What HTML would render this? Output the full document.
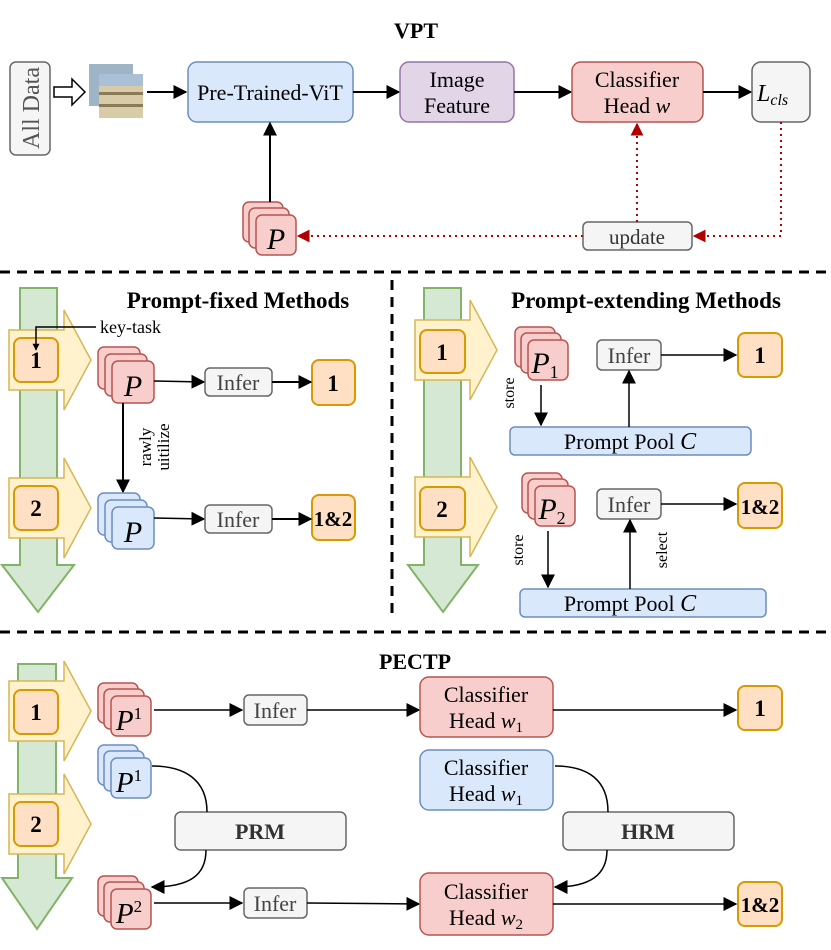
<!DOCTYPE html>
<html><head><meta charset="utf-8"><style>
html,body{margin:0;padding:0;background:#fff;}
svg{display:block;font-family:"Liberation Serif",serif;}
</style></head><body>
<svg width="831" height="950" viewBox="0 0 831 950" xmlns="http://www.w3.org/2000/svg">
<defs>
<marker id="a" viewBox="0 0 10 10" refX="9" refY="5" markerWidth="7" markerHeight="7" orient="auto" markerUnits="userSpaceOnUse"><path d="M0,0L10,5L0,10z" fill="#000"/></marker>
<marker id="ab" viewBox="0 0 10 10" refX="9" refY="5" markerWidth="14" markerHeight="14" orient="auto" markerUnits="userSpaceOnUse"><path d="M0,0L10,5L0,10z" fill="#000"/></marker>
<marker id="ar" viewBox="0 0 10 10" refX="9" refY="5" markerWidth="13" markerHeight="13" orient="auto" markerUnits="userSpaceOnUse"><path d="M0,0L10,5L0,10z" fill="#b00000"/></marker>
</defs>
<g font-size="22">
<!-- VPT -->
<text x="416" y="38" text-anchor="middle" font-weight="bold" font-size="22">VPT</text>
<rect x="10" y="62" width="40" height="93" rx="6" fill="#f5f5f5" stroke="#666" stroke-width="1.5"/>
<text transform="translate(39,108) rotate(-90)" text-anchor="middle" fill="#555" font-size="24">All Data</text>
<path d="M54,87h18v-8l13,13l-13,13v-8h-18z" fill="#fff" stroke="#000" stroke-width="1.5"/>
<rect x="89" y="64" width="44" height="42" fill="#9fb4c4"/>
<rect x="99" y="74" width="44" height="44" fill="#d8cba8"/>
<rect x="99" y="74" width="44" height="12" fill="#a9c0d6"/>
<rect x="99" y="92" width="44" height="3" fill="#8a7a5a"/>
<rect x="99" y="104" width="44" height="3" fill="#8a7a5a"/>
<line x1="147" y1="92" x2="186" y2="92" stroke="#000" stroke-width="2" marker-end="url(#ab)"/>
<rect x="188" y="62" width="165" height="60" rx="9" fill="#dae8fc" stroke="#6c8ebf" stroke-width="1.5"/>
<text x="270" y="100" text-anchor="middle">Pre-Trained-ViT</text>
<line x1="353" y1="92" x2="399" y2="92" stroke="#000" stroke-width="2" marker-end="url(#ab)"/>
<rect x="400" y="62" width="114" height="60" rx="9" fill="#e1d5e7" stroke="#9673a6" stroke-width="1.5"/>
<text x="457" y="87" text-anchor="middle">Image</text><text x="457" y="113" text-anchor="middle">Feature</text>
<line x1="514" y1="92" x2="571" y2="92" stroke="#000" stroke-width="2" marker-end="url(#ab)"/>
<rect x="572" y="62" width="131" height="60" rx="9" fill="#f8cecc" stroke="#b85450" stroke-width="1.5"/>
<text x="637" y="87" text-anchor="middle">Classifier</text><text x="637" y="113" text-anchor="middle">Head <tspan font-style="italic">w</tspan></text>
<line x1="703" y1="92" x2="751" y2="92" stroke="#000" stroke-width="2" marker-end="url(#ab)"/>
<rect x="752" y="62" width="58" height="60" rx="9" fill="#f5f5f5" stroke="#666" stroke-width="1.5"/>
<text x="757" y="101" font-style="italic" font-size="24">L<tspan font-size="16" dy="4">cls</tspan></text>
<g stroke="#b85450" stroke-width="1.5" fill="#f8cecc">
<rect x="243" y="202" width="40" height="40" rx="6"/><rect x="249" y="208" width="40" height="40" rx="6"/><rect x="256" y="215" width="40" height="40" rx="6"/></g>
<text x="276" y="249" text-anchor="middle" font-style="italic" font-size="30">P</text>
<line x1="270" y1="202" x2="270" y2="123" stroke="#000" stroke-width="2" marker-end="url(#ab)"/>
<rect x="583" y="222" width="109" height="28" rx="5" fill="#f5f5f5" stroke="#666" stroke-width="1.5"/>
<text x="637" y="244" text-anchor="middle" fill="#333" font-size="21">update</text>
<g stroke="#b00000" stroke-width="2" stroke-dasharray="2,4" fill="none">
<path d="M781,122V236H694" marker-end="url(#ar)"/>
<path d="M583,236H298" marker-end="url(#ar)"/>
<path d="M637,222V124" marker-end="url(#ar)"/>
</g>
<line x1="0" y1="272" x2="831" y2="272" stroke="#000" stroke-width="3" stroke-dasharray="10,7"/>
<line x1="392" y1="280" x2="392" y2="618" stroke="#000" stroke-width="3" stroke-dasharray="10,7"/>
<line x1="0" y1="632" x2="831" y2="632" stroke="#000" stroke-width="3" stroke-dasharray="10,7"/>

<!-- green arrows -->
<g fill="#d5e8d4" stroke="#82b366" stroke-width="2">
<path d="M20,288H57V565H74L38,612L2,565H20z"/>
<path d="M424,288H461V565H478L443,612L408,565H424z"/>
<path d="M18,664H56V878H72L37,929L2,878H18z"/>
</g>
<g fill="#fff2cc" stroke="#d6b656" stroke-width="1.5">
<path d="M9,330H64V310L91,360L64,410V390H9z"/>
<path d="M9,478H64V458L91,508L64,558V538H9z"/>
<path d="M415,320H470V300L497,350L470,400V380H415z"/>
<path d="M415,477H470V457L497,507L470,557V537H415z"/>
<path d="M9,681H64V661L91,711L64,761V741H9z"/>
<path d="M9,794H64V774L91,824L64,874V854H9z"/>
</g>
<g fill="#ffe0c4" stroke="#d79b00" stroke-width="2">
<rect x="14" y="338" width="44" height="44" rx="7"/><rect x="14" y="486" width="44" height="44" rx="7"/>
<rect x="420" y="330" width="45" height="43" rx="7"/><rect x="420" y="487" width="45" height="43" rx="7"/>
<rect x="14" y="690" width="44" height="44" rx="7"/><rect x="14" y="802" width="44" height="44" rx="7"/>
<rect x="312" y="360" width="43" height="45" rx="7"/><rect x="312" y="495" width="43" height="45" rx="7"/>
<rect x="738" y="333" width="44" height="44" rx="7"/><rect x="738" y="483" width="44" height="45" rx="7"/>
<rect x="738" y="686" width="44" height="44" rx="7"/><rect x="738" y="882" width="44" height="44" rx="7"/>
</g>
<g font-weight="bold" text-anchor="middle" font-size="23">
<text x="36" y="368">1</text><text x="36" y="516">2</text><text x="442" y="360">1</text><text x="442" y="517">2</text>
<text x="36" y="720">1</text><text x="36" y="832">2</text>
<text x="333" y="391">1</text><text x="333" y="526" font-size="21">1&amp;2</text>
<text x="760" y="363">1</text><text x="760" y="514" font-size="21">1&amp;2</text>
<text x="760" y="716">1</text><text x="760" y="912" font-size="21">1&amp;2</text>
</g>

<!-- Prompt-fixed -->
<text x="238" y="308" text-anchor="middle" font-weight="bold" font-size="23">Prompt-fixed Methods</text>
<text x="100" y="333" font-size="18">key-task</text>
<path d="M96,327H36V350" fill="none" stroke="#000" stroke-width="1.5" marker-end="url(#a)"/>
<g stroke="#b85450" stroke-width="1.5" fill="#f8cecc">
<rect x="98" y="347" width="42" height="42" rx="6"/><rect x="105" y="354" width="42" height="42" rx="6"/><rect x="112" y="361" width="42" height="42" rx="6"/></g>
<text x="133" y="396" text-anchor="middle" font-style="italic" font-size="30">P</text>
<line x1="154" y1="381" x2="204" y2="382" stroke="#000" stroke-width="1.5" marker-end="url(#ab)"/>
<rect x="205" y="368" width="67" height="28" rx="5" fill="#f5f5f5" stroke="#666" stroke-width="1.5"/>
<text x="238" y="390" text-anchor="middle" fill="#444">Infer</text>
<line x1="272" y1="382" x2="311" y2="382" stroke="#000" stroke-width="2" marker-end="url(#ab)"/>
<line x1="123" y1="403" x2="123" y2="492" stroke="#000" stroke-width="2" marker-end="url(#ab)"/>
<text transform="translate(151,447) rotate(-90)" text-anchor="middle" font-size="17">rawly</text>
<text transform="translate(169,447) rotate(-90)" text-anchor="middle" font-size="17">uitilize</text>
<g stroke="#6c8ebf" stroke-width="1.5" fill="#dae8fc">
<rect x="98" y="493" width="42" height="42" rx="6"/><rect x="105" y="500" width="42" height="42" rx="6"/><rect x="112" y="507" width="42" height="42" rx="6"/></g>
<text x="133" y="542" text-anchor="middle" font-style="italic" font-size="30">P</text>
<line x1="154" y1="518" x2="204" y2="519" stroke="#000" stroke-width="1.5" marker-end="url(#ab)"/>
<rect x="205" y="505" width="67" height="28" rx="5" fill="#f5f5f5" stroke="#666" stroke-width="1.5"/>
<text x="238" y="527" text-anchor="middle" fill="#444">Infer</text>
<line x1="272" y1="519" x2="311" y2="519" stroke="#000" stroke-width="2" marker-end="url(#ab)"/>

<!-- Prompt-extending -->
<text x="646" y="308" text-anchor="middle" font-weight="bold" font-size="23">Prompt-extending Methods</text>
<g stroke="#b85450" stroke-width="1.5" fill="#f8cecc">
<rect x="515" y="327" width="40" height="40" rx="6"/><rect x="521" y="333" width="40" height="40" rx="6"/><rect x="528" y="340" width="40" height="40" rx="6"/></g>
<text x="545" y="373" text-anchor="middle" font-style="italic" font-size="30">P<tspan font-size="18" font-style="normal" dy="5">1</tspan></text>
<text transform="translate(514,393) rotate(-90)" text-anchor="middle" font-size="16">store</text>
<line x1="541" y1="385" x2="541" y2="425" stroke="#000" stroke-width="1.5" marker-end="url(#ab)"/>
<rect x="510" y="427" width="241" height="28" rx="5" fill="#dae8fc" stroke="#6c8ebf" stroke-width="1.5"/>
<text x="630" y="449" text-anchor="middle">Prompt Pool  <tspan font-style="italic" font-size="24">C</tspan></text>
<rect x="597" y="340" width="64" height="30" rx="5" fill="#f5f5f5" stroke="#666" stroke-width="1.5"/>
<text x="629" y="363" text-anchor="middle" fill="#444">Infer</text>
<line x1="629" y1="427" x2="629" y2="371" stroke="#000" stroke-width="1.5" marker-end="url(#ab)"/>
<line x1="661" y1="355" x2="736" y2="355" stroke="#000" stroke-width="1.5" marker-end="url(#ab)"/>
<g stroke="#b85450" stroke-width="1.5" fill="#f8cecc">
<rect x="522" y="473" width="40" height="40" rx="6"/><rect x="528" y="479" width="40" height="40" rx="6"/><rect x="535" y="486" width="40" height="40" rx="6"/></g>
<text x="552" y="519" text-anchor="middle" font-style="italic" font-size="30">P<tspan font-size="18" font-style="normal" dy="5">2</tspan></text>
<text transform="translate(523,550) rotate(-90)" text-anchor="middle" font-size="16">store</text>
<line x1="548" y1="531" x2="548" y2="587" stroke="#000" stroke-width="1.5" marker-end="url(#ab)"/>
<rect x="520" y="589" width="246" height="28" rx="5" fill="#dae8fc" stroke="#6c8ebf" stroke-width="1.5"/>
<text x="630" y="611" text-anchor="middle">Prompt Pool  <tspan font-style="italic" font-size="24">C</tspan></text>
<rect x="597" y="489" width="64" height="30" rx="5" fill="#f5f5f5" stroke="#666" stroke-width="1.5"/>
<text x="629" y="512" text-anchor="middle" fill="#444">Infer</text>
<line x1="630" y1="589" x2="630" y2="520" stroke="#000" stroke-width="1.5" marker-end="url(#ab)"/>
<text transform="translate(667,550) rotate(-90)" text-anchor="middle" font-size="16">select</text>
<line x1="661" y1="504" x2="736" y2="504" stroke="#000" stroke-width="1.5" marker-end="url(#ab)"/>

<!-- PECTP -->
<text x="415" y="669" text-anchor="middle" font-weight="bold" font-size="22">PECTP</text>
<g stroke="#b85450" stroke-width="1.5" fill="#f8cecc">
<rect x="98" y="683" width="40" height="40" rx="6"/><rect x="104" y="689" width="40" height="40" rx="6"/><rect x="111" y="696" width="40" height="40" rx="6"/></g>
<text x="129" y="730" text-anchor="middle" font-style="italic" font-size="29">P<tspan font-size="17" font-style="normal" dy="-11">1</tspan></text>
<line x1="154" y1="710" x2="242" y2="710" stroke="#000" stroke-width="1.5" marker-end="url(#ab)"/>
<rect x="244" y="695" width="63" height="30" rx="5" fill="#f5f5f5" stroke="#666" stroke-width="1.5"/>
<text x="275" y="718" text-anchor="middle" fill="#444">Infer</text>
<line x1="307" y1="710" x2="419" y2="710" stroke="#000" stroke-width="1.5" marker-end="url(#ab)"/>
<rect x="420" y="677" width="133" height="60" rx="9" fill="#f8cecc" stroke="#b85450" stroke-width="1.5"/>
<text x="486" y="702" text-anchor="middle">Classifier</text><text x="486" y="728" text-anchor="middle">Head <tspan font-style="italic">w</tspan><tspan font-size="15" dy="4">1</tspan></text>
<line x1="553" y1="710" x2="736" y2="710" stroke="#000" stroke-width="1.5" marker-end="url(#ab)"/>

<g stroke="#6c8ebf" stroke-width="1.5" fill="#dae8fc">
<rect x="98" y="745" width="40" height="40" rx="6"/><rect x="104" y="751" width="40" height="40" rx="6"/><rect x="111" y="758" width="40" height="40" rx="6"/></g>
<text x="129" y="792" text-anchor="middle" font-style="italic" font-size="29">P<tspan font-size="17" font-style="normal" dy="-11">1</tspan></text>
<rect x="420" y="750" width="133" height="60" rx="9" fill="#dae8fc" stroke="#6c8ebf" stroke-width="1.5"/>
<text x="486" y="775" text-anchor="middle">Classifier</text><text x="486" y="801" text-anchor="middle">Head <tspan font-style="italic">w</tspan><tspan font-size="15" dy="4">1</tspan></text>

<rect x="175" y="812" width="171" height="38" rx="6" fill="#f5f5f5" stroke="#666" stroke-width="1.5"/>
<text x="260" y="839" text-anchor="middle" font-weight="bold" fill="#333">PRM</text>
<rect x="563" y="812" width="171" height="38" rx="6" fill="#f5f5f5" stroke="#666" stroke-width="1.5"/>
<text x="648" y="839" text-anchor="middle" font-weight="bold" fill="#333">HRM</text>
<g fill="none" stroke="#000" stroke-width="1.5">
<path d="M152,766C185,766 207,780 207,812"/>
<path d="M206,850C206,875 190,887 152,887" marker-end="url(#ab)"/>
<path d="M555,766C588,766 608,780 608,812"/>
<path d="M607,850C607,875 590,887 555,887" marker-end="url(#ab)"/>
</g>
<g stroke="#b85450" stroke-width="1.5" fill="#f8cecc">
<rect x="98" y="876" width="40" height="40" rx="6"/><rect x="104" y="882" width="40" height="40" rx="6"/><rect x="111" y="889" width="40" height="40" rx="6"/></g>
<text x="129" y="923" text-anchor="middle" font-style="italic" font-size="29">P<tspan font-size="17" font-style="normal" dy="-11">2</tspan></text>
<line x1="154" y1="903" x2="242" y2="903" stroke="#000" stroke-width="1.5" marker-end="url(#ab)"/>
<rect x="244" y="888" width="63" height="30" rx="5" fill="#f5f5f5" stroke="#666" stroke-width="1.5"/>
<text x="275" y="911" text-anchor="middle" fill="#444">Infer</text>
<line x1="307" y1="903" x2="419" y2="904" stroke="#000" stroke-width="1.5" marker-end="url(#ab)"/>
<rect x="420" y="873" width="133" height="62" rx="9" fill="#f8cecc" stroke="#b85450" stroke-width="1.5"/>
<text x="486" y="899" text-anchor="middle">Classifier</text><text x="486" y="925" text-anchor="middle">Head <tspan font-style="italic">w</tspan><tspan font-size="15" dy="4">2</tspan></text>
<line x1="553" y1="904" x2="736" y2="904" stroke="#000" stroke-width="1.5" marker-end="url(#ab)"/>
</g>
</svg>
</body></html>
